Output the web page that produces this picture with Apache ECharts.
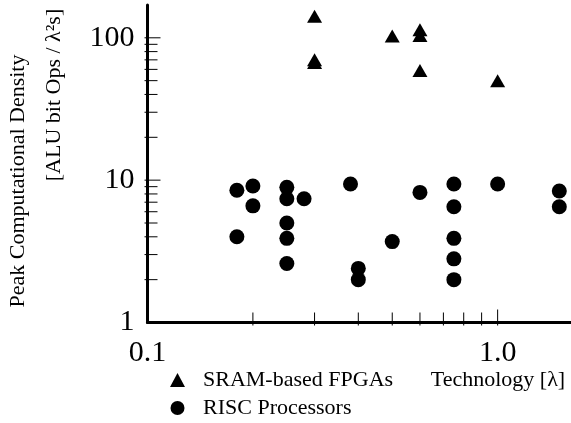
<!DOCTYPE html>
<html>
<head>
<meta charset="utf-8">
<script src="https://cdn.jsdelivr.net/npm/echarts@6/dist/echarts.min.js"></script>
<style>
  html, body { margin: 0; padding: 0; background: #fff; }
  #main { width: 571px; height: 423px; }
</style>
</head>
<body>
<div id="main"></div>
<script>
// SRAM-based FPGAs (technology in lambda, density)
var fpgaTech    = [0.3, 0.3, 0.3, 0.5, 0.6, 0.6, 0.6, 1.0];
var fpgaDensity = [142, 70, 67, 103, 114, 104, 59, 50];

// RISC processors
var riscTech    = [0.18, 0.18, 0.2, 0.2, 0.25, 0.25, 0.25, 0.25, 0.25, 0.28, 0.38, 0.4, 0.4, 0.5, 0.6, 0.75, 0.75, 0.75, 0.75, 0.75, 1.0, 1.5, 1.5];
var riscDensity = [8.5, 4.0, 9.1, 6.6, 8.9, 7.4, 5.0, 3.9, 2.6, 7.4, 9.4, 2.4, 2.0, 3.7, 8.2, 9.4, 6.5, 3.9, 2.8, 2.0, 9.4, 8.4, 6.5];

// axis ticks (log decades with 2..9 minor ticks)
var xMinorTicks = [0.2, 0.3, 0.4, 0.5, 0.6, 0.7, 0.8, 0.9];
var xMajorTicks = [1.0];
var yMinorTicks = [2, 3, 4, 5, 6, 7, 8, 9, 20, 30, 40, 50, 60, 70, 80, 90];
var yMajorTicks = [10, 100];

var seriesNames = ['SRAM-based FPGAs', 'RISC Processors'];

var serif = 'Liberation Serif';

function zip(a, b) {
    return a.map(function (v, i) { return [v, b[i]]; });
}

function isDecade(v) {
    var l = Math.log10(v);
    return Math.abs(l - Math.round(l)) < 1e-6;
}

// tick drawing through the axis scales
function tickSeries(values, dir, len) {
    return {
        type: 'custom',
        silent: true,
        clip: false,
        z: 5,
        data: values.map(function (v) { return dir == 'x' ? [v, 1] : [0.1, v]; }),
        renderItem: function (params, api) {
            var p = api.coord([api.value(0), api.value(1)]);
            var shape = dir == 'x'
                ? { x1: p[0], y1: p[1] + 3, x2: p[0], y2: p[1] - len }
                : { x1: p[0] - 3, y1: p[1], x2: p[0] + len, y2: p[1] };
            return { type: 'line', shape: shape, style: { stroke: '#000', lineWidth: 1 } };
        }
    };
}

var myChart = echarts.init(document.getElementById('main'));

var option = {
    animation: false,
    backgroundColor: '#fff',
    grid: { left: 147.5, right: 0, top: 5, bottom: 100.5 },
    legend: {
        data: seriesNames,
        orient: 'vertical',
        left: 170,
        top: 369,
        padding: 0,
        itemWidth: 15,
        itemHeight: 14,
        itemGap: 6,
        textStyle: { fontFamily: serif, fontSize: 22, color: '#000', padding: [0, 0, 0, 13] }
    },
    xAxis: {
        type: 'log',
        logBase: 10,
        min: 0.1,
        max: 1.62,
        axisLine: { lineStyle: { color: '#000', width: 3 } },
        axisTick: { show: false },
        splitLine: { show: false },
        axisLabel: {
            fontFamily: serif, fontSize: 30, color: '#000', margin: 16,
            showMaxLabel: false,
            formatter: function (v) { return isDecade(v) ? v.toFixed(1) : ''; }
        }
    },
    yAxis: {
        type: 'log',
        logBase: 10,
        min: 1,
        max: 170,
        axisLine: { lineStyle: { color: '#000', width: 3 } },
        axisTick: { show: false },
        splitLine: { show: false },
        axisLabel: {
            fontFamily: serif, fontSize: 30, color: '#000', margin: 13,
            showMaxLabel: false,
            formatter: function (v) { return isDecade(v) ? String(Math.round(v)) : ''; }
        }
    },
    graphic: [
        {
            type: 'text', x: 18, y: 181, rotation: Math.PI / 2,
            style: { text: 'Peak Computational Density', fontFamily: serif, fontSize: 22, fill: '#000', align: 'center', verticalAlign: 'middle' }
        },
        {
            type: 'text', x: 54, y: 95, rotation: Math.PI / 2,
            style: { text: '[ALU bit Ops / λ²s]', fontFamily: serif, fontSize: 22, fill: '#000', align: 'center', verticalAlign: 'middle' }
        },
        {
            type: 'text', x: 498, y: 380,
            style: { text: 'Technology [λ]', fontFamily: serif, fontSize: 22, fill: '#000', align: 'center', verticalAlign: 'middle' }
        }
    ],
    series: [
        {
            name: seriesNames[0],
            type: 'scatter',
            symbol: 'triangle',
            symbolSize: [15, 13],
            itemStyle: { color: '#000', opacity: 1 },
            data: zip(fpgaTech, fpgaDensity)
        },
        {
            name: seriesNames[1],
            type: 'scatter',
            symbol: 'circle',
            symbolSize: 15,
            itemStyle: { color: '#000', opacity: 1 },
            data: zip(riscTech, riscDensity)
        },
        tickSeries(xMinorTicks, 'x', 10),
        tickSeries(xMajorTicks, 'x', 13),
        tickSeries(yMinorTicks, 'y', 10),
        tickSeries(yMajorTicks, 'y', 13)
    ]
};

myChart.setOption(option);
</script>
</body>
</html>
